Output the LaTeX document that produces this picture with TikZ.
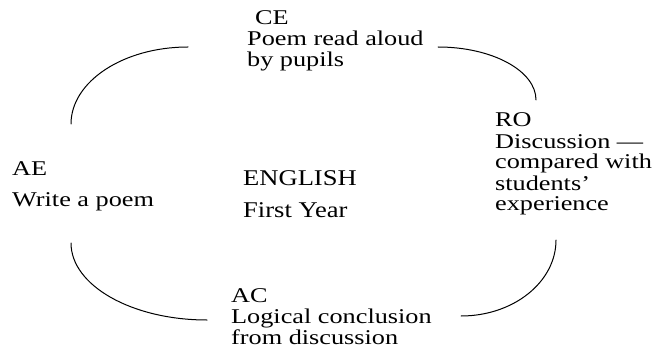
\documentclass[tikz,border=0pt]{standalone}
\usepackage{fontspec}
\setmainfont{Liberation Serif}[FakeStretch=1.25]
\newfontfamily\headfont{Liberation Serif}[FakeStretch=1.18]
\begin{document}
\begin{tikzpicture}[x=1pt,y=-1pt,
  txt/.style={anchor=base west,inner sep=0pt,align=left,font=\fontsize{21}{21}\selectfont},
  wide/.style={txt,font=\fontsize{21}{30}\selectfont},
  big/.style={anchor=base west,inner sep=0pt,align=left,font=\headfont\fontsize{22.5}{32}\selectfont},
  arc/.style={line width=1pt,line cap=round}]
\useasboundingbox (0,0) rectangle (658,358);
% base anchor = baseline of the last line
\node[txt] (ce) at (247,67) {\hspace*{8pt}CE\\Poem read aloud\\by pupils};
\node[txt] (ro) at (495,211) {RO\\Discussion ---\\compared with\\students'\\experience};
\node[wide] (ae) at (12,206) {AE\\Write a poem};
\node[big] (eng) at (243,217) {ENGLISH\\First Year};
\node[txt] (ac) at (231,344) {AC\\Logical conclusion\\from discussion};
\coordinate (tl1) at (71,124);
\coordinate (tl2) at (188,47);
\coordinate (tr1) at (438,47);
\coordinate (tr2) at (536,100);
\coordinate (br1) at (556,240);
\coordinate (br2) at (461,316);
\coordinate (bl1) at (71,243);
\coordinate (bl2) at (207,320);
\draw[arc] (tl1) .. controls (71,81.5) and (123.4,47) .. (tl2);
\draw[arc] (tr1) .. controls (492.1,47) and (536,70.7) .. (tr2);
\draw[arc] (br1) .. controls (556,282) and (513.5,316) .. (br2);
\draw[arc] (bl1) .. controls (71,285.5) and (131.9,320) .. (bl2);
\end{tikzpicture}
\end{document}
